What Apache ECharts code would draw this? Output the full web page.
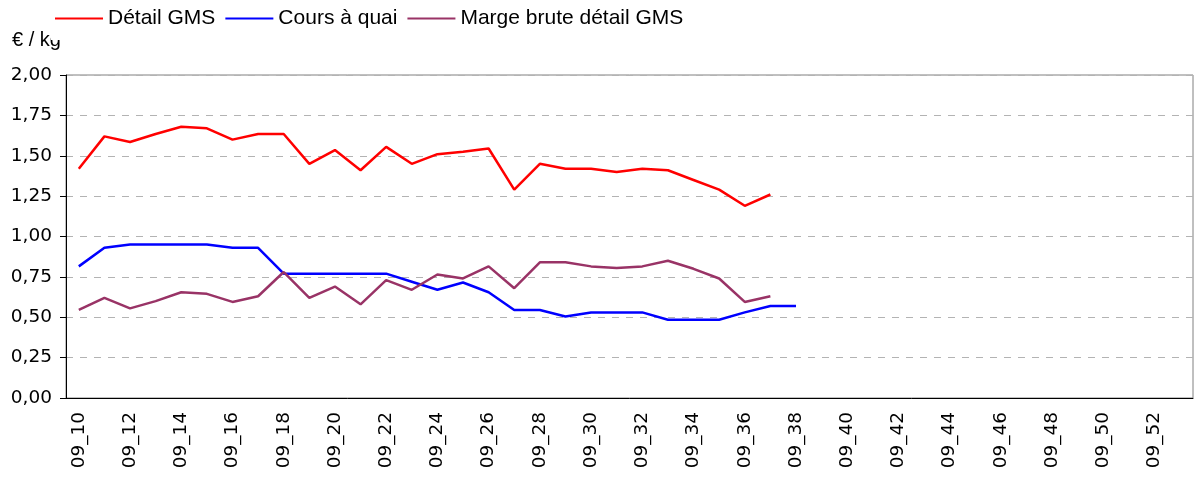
<!DOCTYPE html>
<html>
<head>
<meta charset="utf-8">
<script src="https://cdn.jsdelivr.net/npm/echarts@6/dist/echarts.min.js"></script>
<style>
  html, body { margin: 0; padding: 0; background: #fff; }
  #chart { width: 1195px; height: 480px; }
</style>
</head>
<body>
<div id="chart"></div>
<script>
// semaines 09_10 .. 09_53
const weeks = [
  '09_10', '09_11', '09_12', '09_13', '09_14', '09_15', '09_16', '09_17', '09_18', '09_19',
  '09_20', '09_21', '09_22', '09_23', '09_24', '09_25', '09_26', '09_27', '09_28', '09_29',
  '09_30', '09_31', '09_32', '09_33', '09_34', '09_35', '09_36', '09_37', '09_38', '09_39',
  '09_40', '09_41', '09_42', '09_43', '09_44', '09_45', '09_46', '09_47', '09_48', '09_49',
  '09_50', '09_51', '09_52', '09_53'
]
const detailGms = [
  1.42, 1.62, 1.585, 1.635, 1.68, 1.67, 1.6, 1.635, 1.635, 1.45,
  1.535, 1.41, 1.555, 1.45, 1.51, 1.525, 1.545, 1.29, 1.45, 1.42,
  1.42, 1.4, 1.42, 1.41, 1.35, 1.29, 1.19, 1.26
]
const coursQuai = [
  0.815, 0.93, 0.95, 0.95, 0.95, 0.95, 0.93, 0.93, 0.77, 0.77,
  0.77, 0.77, 0.77, 0.72, 0.67, 0.715, 0.655, 0.545, 0.545, 0.505,
  0.53, 0.53, 0.53, 0.485, 0.485, 0.485, 0.53, 0.57, 0.57
]
const margeBrute = [
  0.545, 0.62, 0.555, 0.6, 0.655, 0.645, 0.595, 0.63, 0.78, 0.62,
  0.69, 0.58, 0.73, 0.67, 0.765, 0.74, 0.815, 0.68, 0.84, 0.84,
  0.815, 0.805, 0.815, 0.85, 0.8, 0.74, 0.595, 0.63
]

const chart = echarts.init(document.getElementById('chart'))
const font = 'Liberation Sans, Arial, sans-serif'
// les libellés d'axe sont plus larges que de l'Arial
const axisFont = 'DejaVu Sans, sans-serif'

chart.setOption({
  animation: false,
  textStyle: { fontFamily: font },
  title: {
    text: '€ / kg',
    left: 7,
    top: 25,
    textStyle: { fontSize: 20, fontWeight: 'normal', color: '#000', fontFamily: font }
  },
  legend: {
    z: 10,
    left: 51,
    top: 3,
    padding: [5, 4, 11, 4],
    backgroundColor: '#fff',
    itemGap: 10,
    itemWidth: 48,
    itemHeight: 2,
    icon: 'rect',
    textStyle: { fontSize: 21, color: '#000', fontFamily: font },
    data: ['Détail GMS', 'Cours à quai', 'Marge brute détail GMS']
  },
  grid: {
    left: 66,
    right: 2,
    top: 75,
    bottom: 82,
    show: true,
    borderColor: '#808080',
    borderWidth: 1
  },
  xAxis: {
    type: 'category',
    data: weeks,
    boundaryGap: true,
    axisLine: { lineStyle: { color: '#000', width: 1 } },
    axisTick: { interval: 1, length: 6, lineStyle: { color: '#000' } },
    axisLabel: {
      interval: 1,
      rotate: 90,
      margin: 14,
      fontSize: 18.5,
      color: '#000',
      fontFamily: axisFont
    },
    splitLine: { show: false }
  },
  yAxis: {
    type: 'value',
    min: 0,
    max: 2,
    interval: 0.25,
    axisLine: { show: true, lineStyle: { color: '#000', width: 1 } },
    axisTick: { show: true, length: 6, lineStyle: { color: '#000' } },
    axisLabel: {
      fontSize: 18.5,
      color: '#000',
      margin: 14,
      fontFamily: axisFont,
      formatter: v => v.toFixed(2).replace('.', ',')
    },
    splitLine: { lineStyle: { color: '#b3b3b3', type: [7, 7], width: 1 } }
  },
  series: [
    {
      name: 'Détail GMS',
      type: 'line',
      data: detailGms,
      symbol: 'none',
      color: '#ff0000',
      lineStyle: { width: 2.5, color: '#ff0000' }
    },
    {
      name: 'Cours à quai',
      type: 'line',
      data: coursQuai,
      symbol: 'none',
      color: '#0000ff',
      lineStyle: { width: 2.5, color: '#0000ff' }
    },
    {
      name: 'Marge brute détail GMS',
      type: 'line',
      data: margeBrute,
      symbol: 'none',
      color: '#993366',
      lineStyle: { width: 2.5, color: '#993366' }
    }
  ]
})
</script>
</body>
</html>
